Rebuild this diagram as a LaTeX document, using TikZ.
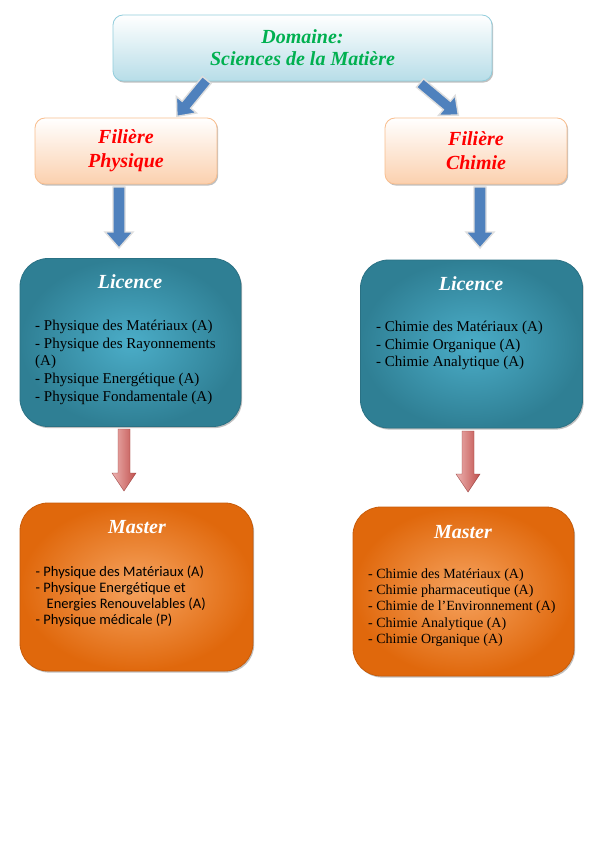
\documentclass[tikz,border=0pt]{standalone}
\usepackage{fontspec}
\setmainfont{Liberation Serif}
\newfontfamily\calib{Carlito}
\usetikzlibrary{shadows,calc}
\definecolor{domBot}{HTML}{B7DDE8}
\definecolor{domLine}{HTML}{92CDDC}
\definecolor{filBot}{HTML}{FBD0AE}
\definecolor{filLine}{HTML}{F9BE8E}
\definecolor{licIn}{HTML}{4BADC8}
\definecolor{licOut}{HTML}{2F7F94}
\definecolor{licLine}{HTML}{2A7184}
\definecolor{masIn}{HTML}{F6A35F}
\definecolor{masOut}{HTML}{E0680C}
\definecolor{masLine}{HTML}{C85C0A}
\definecolor{arBlue}{HTML}{4F81BD}
\definecolor{arRedL}{HTML}{EDB3B1}
\definecolor{arRedD}{HTML}{C0504D}
\definecolor{titGreen}{HTML}{00B050}
\newcommand\blockarr[7]{\begin{scope}[shift={(#2)},rotate=#3]
\path[#1] (0,-#5) -- ({#4-#7},-#5) -- ({#4-#7},-#6) -- (#4,0) -- ({#4-#7},#6) -- ({#4-#7},#5) -- (0,#5) -- cycle;
\end{scope}}
\newcommand\vblock[6]{\path[#1] ($(#2)+(-#4,0)$) -- ($(#3)+(-#4,-#6)$) -- ($(#3)+(-#5,-#6)$) -- (#3) -- ($(#3)+(#5,-#6)$) -- ($(#3)+(#4,-#6)$) -- ($(#2)+(#4,0)$) -- cycle;}
\tikzset{
  box/.style={draw, inner sep=0pt, outer sep=0pt, line width=0.8pt, anchor=north west,
    drop shadow={shadow xshift=1.2pt,shadow yshift=-1.6pt,opacity=0.35,fill=black!70}},
  dombox/.style={box, rounded corners=10pt, top color=white, bottom color=domBot, draw=domLine},
  filbox/.style={box, rounded corners=10pt, top color=white, bottom color=filBot, draw=filLine},
  licbox/.style={box, rounded corners=28pt, inner color=licIn, outer color=licOut, draw=licLine},
  masbox/.style={box, rounded corners=28pt, inner color=masIn, outer color=masOut, draw=masLine},
  titre/.style={font=\fontsize{20}{24}\selectfont\bfseries\itshape, align=center, inner sep=0pt},
  titreD/.style={font=\fontsize{20}{22.5}\selectfont\bfseries\itshape, align=center, inner sep=0pt},
  listeL/.style={font=\fontsize{15}{17.6}\selectfont, align=left, inner sep=0pt, anchor=north west},
  listeM/.style={font=\fontsize{14}{16.2}\selectfont, align=left, inner sep=0pt, anchor=north west},
  listeC/.style={font=\calib\fontsize{14.5}{16}\selectfont, align=left, inner sep=0pt, anchor=north west},
  bluearr/.style={fill=arBlue, draw=black!13, line width=1.4pt, line join=miter},
  redarr/.style={left color=arRedL, right color=arRedD, draw=arRedD!80!black, line width=0.4pt}
}
\begin{document}
\begin{tikzpicture}[x=1pt,y=-1pt]
\useasboundingbox (0,0) rectangle (595,842);
\fill[white] (0,0) rectangle (595,842);

% boxes
\node[dombox, minimum width=379pt, minimum height=66pt] (dom) at (113,15) {};
\node[filbox, minimum width=182pt, minimum height=66pt] (filP) at (35,118) {};
\node[filbox, minimum width=182pt, minimum height=66pt] (filC) at (385,118) {};
\node[licbox, minimum width=221pt, minimum height=168pt] (licP) at (20,258.5) {};
\node[licbox, minimum width=222pt, minimum height=168pt] (licC) at (360.5,260) {};
\node[masbox, minimum width=233pt, minimum height=168pt] (masP) at (20,503) {};
\node[masbox, minimum width=221pt, minimum height=169pt] (masC) at (353,507) {};

% texts
\node[titreD, text=titGreen] (domT) at ($(dom.center)+(0,-0.5)$) {Domaine:\\Sciences de la Matière};
\node[titre, text=red] (filPT) at ($(filP.center)+(0,-0.5)$) {Filière\\Physique};
\node[titre, text=red] (filCT) at ($(filC.center)+(0,-0.5)$) {Filière\\Chimie};
\node[titre, text=white] (licPT) at (130,281.5) {Licence};
\node[titre, text=white] (licCT) at (471,283.5) {Licence};
\node[titre, text=white] (masPT) at (137,527.5) {Master};
\node[titre, text=white] (masCT) at (463,532.5) {Master};

\node[listeL] (licPL) at (35,320) {- Physique des Matériaux (A)\\- Physique des Rayonnements\\(A)\\- Physique Energétique (A)\\- Physique Fondamentale (A)};
\node[listeL] (licCL) at (376,321) {- Chimie des Matériaux (A)\\- Chimie Organique (A)\\- Chimie Analytique (A)};
\node[listeC] (masPL) at (35.5,565.5) {- Physique des Matériaux (A)\\- Physique Energétique et\\\hspace*{11pt}Energies Renouvelables (A)\\- Physique médicale (P)};
\node[listeM] (masCL) at (368,568.5) {- Chimie des Matériaux (A)\\- Chimie pharmaceutique (A)\\- Chimie de l’Environnement (A)\\- Chimie Analytique (A)\\- Chimie Organique (A)};

% arrows
\coordinate (dL) at (206.7,80);
\coordinate (dR) at (420,83);
\blockarr{bluearr}{dL}{230.7}{47}{5.5}{13}{15}
\blockarr{bluearr}{dR}{-39.9}{50}{5.5}{13}{15}

\coordinate (bL1) at (119,187);
\coordinate (bL2) at (119,248);
\coordinate (bR1) at (480,187);
\coordinate (bR2) at (480,248);
\vblock{bluearr}{bL1}{bL2}{6}{14}{16}
\vblock{bluearr}{bR1}{bR2}{6}{14}{16}

\coordinate (rL1) at (124,429);
\coordinate (rL2) at (124,491);
\coordinate (rR1) at (468,431);
\coordinate (rR2) at (468,492);
\vblock{redarr}{rL1}{rL2}{6}{12}{18}
\vblock{redarr}{rR1}{rR2}{6}{12}{18}
\end{tikzpicture}
\end{document}
